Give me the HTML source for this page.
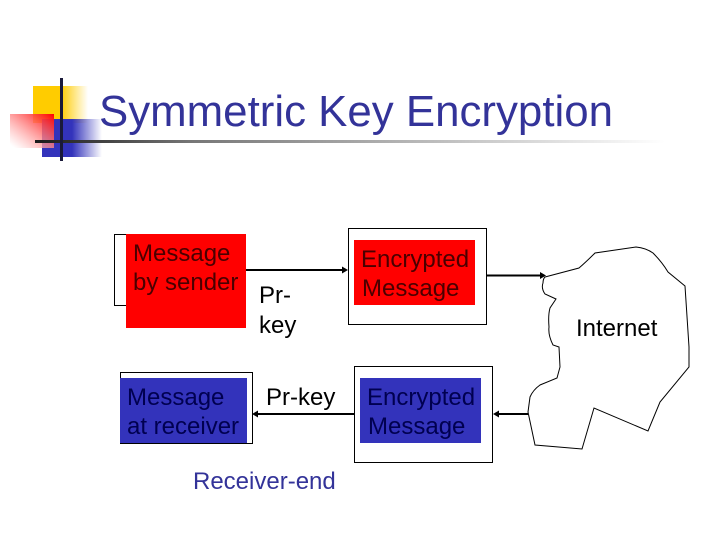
<!DOCTYPE html>
<html>
<head>
<meta charset="utf-8">
<style>
html,body{margin:0;padding:0;background:#fff}
svg{display:block}
text{font-family:"Liberation Sans",Arial,sans-serif;font-size:24px}
</style>
</head>
<body>
<svg width="720" height="540" viewBox="0 0 720 540" xmlns="http://www.w3.org/2000/svg">
<defs>
<linearGradient id="y" x1="0" x2="1" y1="0" y2="0"><stop offset="0" stop-color="#ffcc00"/><stop offset=".5" stop-color="#ffcc00"/><stop offset="1" stop-color="#ffcc00" stop-opacity="0"/></linearGradient>
<linearGradient id="b" x1="0" x2="1" y1="0" y2="0"><stop offset="0" stop-color="#3333bb"/><stop offset=".5" stop-color="#3333bb"/><stop offset="1" stop-color="#3333bb" stop-opacity="0"/></linearGradient>
<linearGradient id="r" x1="1" x2="0" y1="0" y2="1"><stop offset="0" stop-color="#ff0000"/><stop offset=".95" stop-color="#ffffff" stop-opacity=".6"/><stop offset="1" stop-color="#ffffff" stop-opacity="0"/></linearGradient>
<linearGradient id="l" x1="0" x2="1" y1="0" y2="0"><stop offset="0" stop-color="#1a1a1a"/><stop offset=".25" stop-color="#777"/><stop offset="1" stop-color="#fff"/></linearGradient>
</defs>
<rect x="33" y="86" width="55" height="37" fill="url(#y)"/>
<rect x="42" y="119" width="60" height="38" fill="url(#b)"/>
<rect x="10" y="114" width="44" height="34" fill="url(#r)"/>
<rect x="35" y="140" width="630" height="3" fill="url(#l)"/>
<rect x="60" y="78" width="3" height="83" fill="#1a1a3a"/>
<text x="99" y="126" style="font-size:44px" fill="#333399" textLength="514" lengthAdjust="spacingAndGlyphs">Symmetric Key Encryption</text>

<rect x="114.500" y="234.500" width="131" height="71" fill="#fff" stroke="#000"/>
<rect x="126" y="234" width="120" height="94" fill="#ff0000"/>
<text x="133" y="261" fill="#4a0000">Message</text>
<text x="133" y="290" fill="#4a0000">by sender</text>
<text x="259" y="303" fill="#000">Pr-</text>
<text x="259" y="333" fill="#000">key</text>
<path d="M246 270H344" stroke="#000" stroke-width="2"/>
<path d="M348 270l-6-3.500v7z" fill="#000"/>

<rect x="348.500" y="228.500" width="138" height="96" fill="#fff" stroke="#000"/>
<rect x="354" y="240" width="121" height="65" fill="#ff0000"/>
<text x="361" y="267" fill="#4a0000">Encrypted</text>
<text x="362" y="296" fill="#4a0000">Message</text>
<path d="M487 275.500H541" stroke="#000" stroke-width="2"/>
<path d="M546 275.500l-6-3.500v7z" fill="#000"/>

<rect x="120.500" y="372.500" width="132" height="71" fill="#fff" stroke="#000"/>
<rect x="120" y="378" width="127" height="65" fill="#3333bb"/>
<text x="127" y="405" fill="#000050">Message</text>
<text x="127" y="434" fill="#000050">at receiver</text>
<text x="266" y="405" fill="#000">Pr-key</text>
<path d="M354 414H257" stroke="#000" stroke-width="2"/>
<path d="M252 414l6-3.500v7z" fill="#000"/>

<rect x="354.500" y="366.500" width="138" height="96" fill="#fff" stroke="#000"/>
<rect x="360" y="378" width="121" height="65" fill="#3333bb"/>
<text x="367" y="405" fill="#000050">Encrypted</text>
<text x="368" y="434" fill="#000050">Message</text>
<path d="M528 414H498" stroke="#000" stroke-width="2"/>
<path d="M493 414l6-3.500v7z" fill="#000"/>

<text x="193" y="489" fill="#333399">Receiver-end</text>

<path d="M545 277L579 268Q586 262 595 253L636 247Q646 248 653 253Q662 262 668 272L685 286L689 347V367L660 402L648 431L594 408L582 449L535 445L528 412L530 397Q533 390 540 385L557 378L560 367L559 347L553 345Q548 335 549 327Q548 315 550 308L556 299L545 294Q541 288 543 283Q543 279 545 277Z" fill="none" stroke="#000" stroke-width="1"/>
<text x="576" y="336" fill="#000">Internet</text>
</svg>
</body>
</html>
